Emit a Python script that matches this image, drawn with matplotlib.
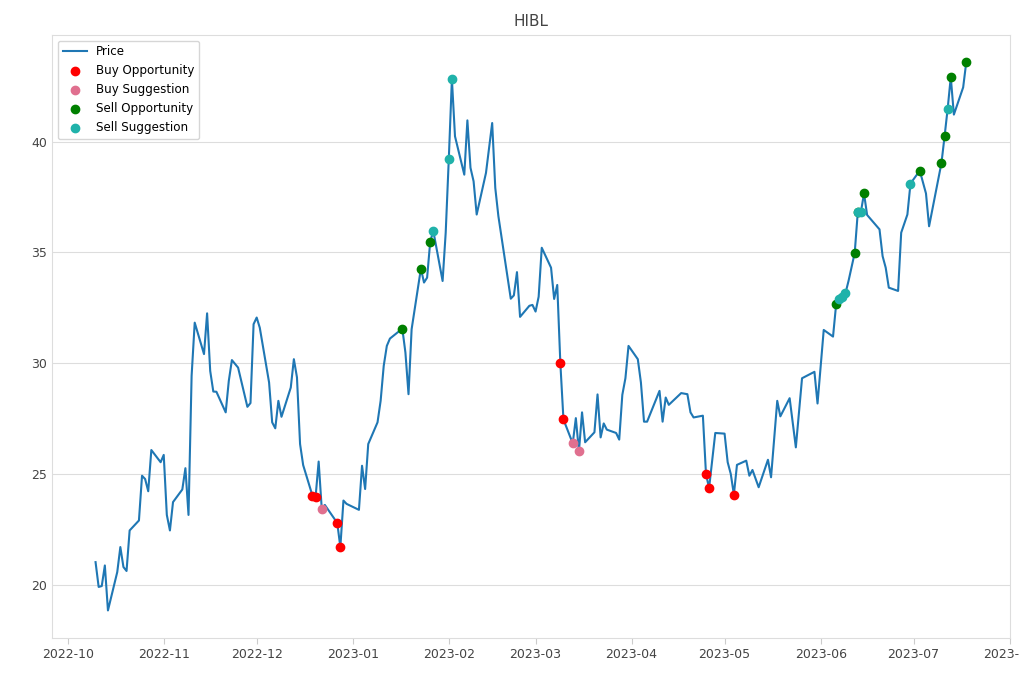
import pandas as pd
from matplotlib import pyplot as plt
import matplotlib.dates as mdates

# price line
dates = ['2022-10-10', '2022-10-11', '2022-10-12', '2022-10-13', '2022-10-14', '2022-10-17', '2022-10-18',
         '2022-10-19', '2022-10-20', '2022-10-21', '2022-10-24', '2022-10-25', '2022-10-26', '2022-10-27',
         '2022-10-28', '2022-10-31', '2022-11-01', '2022-11-02', '2022-11-03', '2022-11-04', '2022-11-07',
         '2022-11-08', '2022-11-09', '2022-11-10', '2022-11-11', '2022-11-14', '2022-11-15', '2022-11-16',
         '2022-11-17', '2022-11-18', '2022-11-21', '2022-11-22', '2022-11-23', '2022-11-25', '2022-11-28',
         '2022-11-29', '2022-11-30', '2022-12-01', '2022-12-02', '2022-12-05', '2022-12-06', '2022-12-07',
         '2022-12-08', '2022-12-09', '2022-12-12', '2022-12-13', '2022-12-14', '2022-12-15', '2022-12-16',
         '2022-12-19', '2022-12-20', '2022-12-21', '2022-12-22', '2022-12-23', '2022-12-27', '2022-12-28',
         '2022-12-29', '2022-12-30', '2023-01-03', '2023-01-04', '2023-01-05', '2023-01-06', '2023-01-09',
         '2023-01-10', '2023-01-11', '2023-01-12', '2023-01-13', '2023-01-17', '2023-01-18', '2023-01-19',
         '2023-01-20', '2023-01-23', '2023-01-24', '2023-01-25', '2023-01-26', '2023-01-27', '2023-01-30',
         '2023-01-31', '2023-02-01', '2023-02-02', '2023-02-03', '2023-02-06', '2023-02-07', '2023-02-08',
         '2023-02-09', '2023-02-10', '2023-02-13', '2023-02-15', '2023-02-16', '2023-02-17', '2023-02-21',
         '2023-02-22', '2023-02-23', '2023-02-24', '2023-02-27', '2023-02-28', '2023-03-01', '2023-03-02',
         '2023-03-03', '2023-03-06', '2023-03-07', '2023-03-08', '2023-03-09', '2023-03-10', '2023-03-13',
         '2023-03-14', '2023-03-15', '2023-03-16', '2023-03-17', '2023-03-20', '2023-03-21', '2023-03-22',
         '2023-03-23', '2023-03-24', '2023-03-27', '2023-03-28', '2023-03-29', '2023-03-30', '2023-03-31',
         '2023-04-03', '2023-04-04', '2023-04-05', '2023-04-06', '2023-04-10', '2023-04-11', '2023-04-12',
         '2023-04-13', '2023-04-17', '2023-04-19', '2023-04-20', '2023-04-21', '2023-04-24', '2023-04-25',
         '2023-04-26', '2023-04-28', '2023-05-01', '2023-05-02', '2023-05-03', '2023-05-04', '2023-05-05',
         '2023-05-08', '2023-05-09', '2023-05-10', '2023-05-12', '2023-05-15', '2023-05-16', '2023-05-18',
         '2023-05-19', '2023-05-22', '2023-05-24', '2023-05-26', '2023-05-30', '2023-05-31', '2023-06-02',
         '2023-06-05', '2023-06-06', '2023-06-07', '2023-06-08', '2023-06-09', '2023-06-10', '2023-06-12',
         '2023-06-13', '2023-06-14', '2023-06-15', '2023-06-16', '2023-06-20', '2023-06-21', '2023-06-22',
         '2023-06-23', '2023-06-26', '2023-06-27', '2023-06-29', '2023-06-30', '2023-07-03', '2023-07-05',
         '2023-07-06', '2023-07-10', '2023-07-11', '2023-07-12', '2023-07-13', '2023-07-14', '2023-07-17',
         '2023-07-18']
prices = [21.02, 19.9, 19.94, 20.87, 18.84, 20.57, 21.7,
          20.8, 20.62, 22.45, 22.9, 24.92, 24.77, 24.22,
          26.08, 25.53, 25.86, 23.15, 22.45, 23.73, 24.3,
          25.26, 23.15, 29.43, 31.83, 30.41, 32.25, 29.65,
          28.72, 28.71, 27.78, 29.2, 30.14, 29.8, 28.03,
          28.2, 31.76, 32.06, 31.6, 29.13, 27.33, 27.06,
          28.3, 27.58, 28.9, 30.18, 29.36, 26.35, 25.4,
          24.02, 23.95, 25.56, 23.42, 23.6, 22.79, 21.7,
          23.8, 23.65, 23.38, 25.37, 24.32, 26.35, 27.33,
          28.3, 29.88, 30.78, 31.11, 31.56, 30.48, 28.6,
          31.53, 34.27, 33.64, 33.86, 35.48, 35.97, 33.71,
          35.89, 39.22, 42.82, 40.24, 38.51, 40.96, 38.82,
          38.21, 36.71, 38.59, 40.84, 37.91, 36.64, 32.91,
          33.06, 34.11, 32.09, 32.59, 32.63, 32.33, 33.0,
          35.21, 34.31, 32.9, 33.53, 30.0, 27.46, 26.38,
          27.52, 26.02, 27.78, 26.43, 26.88, 28.59, 26.65,
          27.28, 27.0, 26.85, 26.55, 28.57, 29.32, 30.78,
          30.18, 29.13, 27.36, 27.36, 28.75, 27.36, 28.45,
          28.12, 28.65, 28.6, 27.78, 27.55, 27.63, 25.0,
          24.36, 26.85, 26.82, 25.53, 25.0, 24.07, 25.41,
          25.6, 24.92, 25.18, 24.4, 25.64, 24.85, 28.3,
          27.6, 28.42, 26.2, 29.32, 29.61, 28.18, 31.5,
          31.2, 32.65, 32.88, 33.0, 33.15, 33.71, 34.98,
          36.83, 36.83, 37.66, 36.69, 36.04, 34.83, 34.31,
          33.41, 33.26, 35.89, 36.71, 38.11, 38.69, 37.66,
          36.18, 39.04, 40.24, 41.49, 42.91, 41.22, 42.45,
          43.59]

buy_opp_dates = ['2022-12-19', '2022-12-20', '2022-12-27', '2022-12-28', '2023-03-09', '2023-03-10',
                 '2023-04-25', '2023-04-26', '2023-05-04']
buy_opp_prices = [24.02, 23.95, 22.79, 21.7, 30.0, 27.46, 25.0, 24.36, 24.07]

buy_sug_dates = ['2022-12-22', '2023-03-13', '2023-03-15']
buy_sug_prices = [23.42, 26.38, 26.02]

sell_opp_dates = ['2023-01-17', '2023-01-23', '2023-01-26', '2023-06-06', '2023-06-12', '2023-06-13',
                  '2023-06-15', '2023-07-03', '2023-07-10', '2023-07-11', '2023-07-13', '2023-07-18']
sell_opp_prices = [31.56, 34.27, 35.48, 32.65, 34.98, 36.83, 37.66, 38.69, 39.04, 40.24, 42.91, 43.59]

sell_sug_dates = ['2023-01-27', '2023-02-01', '2023-02-02', '2023-06-07', '2023-06-08', '2023-06-09',
                  '2023-06-13', '2023-06-14', '2023-06-30', '2023-07-12']
sell_sug_prices = [35.97, 39.22, 42.82, 32.88, 33.0, 33.15, 36.83, 36.83, 38.11, 41.49]

fig, ax = plt.subplots(figsize=(10.2, 6.8), dpi=100)
fig.subplots_adjust(left=0.051, right=0.99, top=0.949, bottom=0.062)

ax.plot(pd.to_datetime(dates), prices, color='#1f77b4', lw=1.5, label='Price')
ax.scatter(pd.to_datetime(buy_opp_dates), buy_opp_prices, color='red', label='Buy Opportunity', zorder=3)
ax.scatter(pd.to_datetime(buy_sug_dates), buy_sug_prices, color='#e0708f', label='Buy Suggestion', zorder=3)
ax.scatter(pd.to_datetime(sell_opp_dates), sell_opp_prices, color='green', label='Sell Opportunity', zorder=3)
ax.scatter(pd.to_datetime(sell_sug_dates), sell_sug_prices, color='lightseagreen', label='Sell Suggestion', zorder=3)

ax.set_title('HIBL', color='#444444', fontsize=11)
ax.xaxis.set_major_locator(mdates.MonthLocator())
ax.xaxis.set_major_formatter(mdates.DateFormatter('%Y-%m'))
ax.grid(axis='y', color='#dddddd', lw=0.8)
ax.set_axisbelow(True)
for s in ax.spines.values():
    s.set_color('#dddddd')
ax.tick_params(axis='both', colors='#444444', labelsize=9)
ax.tick_params(axis='x', color='#cccccc', length=4)
ax.tick_params(axis='y', length=0)
ax.legend(loc='upper left', fontsize=8.6, edgecolor='#cccccc')

plt.savefig('out.png')
